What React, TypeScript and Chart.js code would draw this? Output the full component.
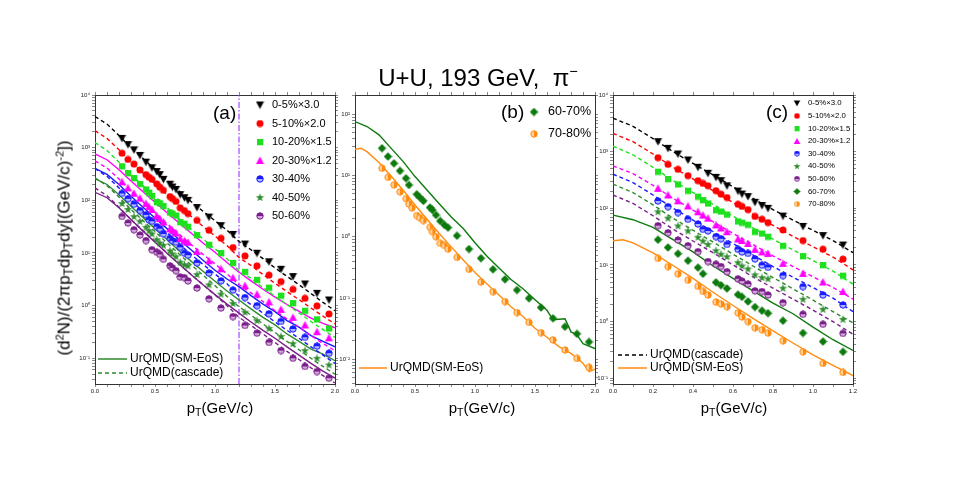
import { useEffect, useRef } from 'react';
import { Chart, registerables } from 'chart.js';
Chart.register(...registerables);

// ---------------- data ----------------
const DATA_PT = [0.225, 0.275, 0.325, 0.375, 0.425, 0.45, 0.475, 0.515, 0.54, 0.57, 0.625, 0.645, 0.675, 0.71, 0.745, 0.775, 0.85, 0.95, 1.05, 1.15, 1.25, 1.35, 1.45, 1.55, 1.65, 1.75, 1.85, 1.95];
const C0_5 = [1500, 1145, 910, 713, 530, null, 415, 352, 308, 250, 202, 179, 161, 128, 112, 100, 73, 48, 33, 22.5, 14.8, 9.9, 6.8, 4.9, 3.56, 2.58, 1.71, 1.28];
const C5_10 = [784, 597, 488, 377, 308, 275, 250, 205, 178, 155, 118, 108, 95, 72, 64, 56, 41.5, 27, 19, 12.7, 8.8, 5.7, 3.8, 2.86, 2.04, 1.38, 0.99, 0.695];
const C10_20 = [444, 330, 265, 205, 161, 140, 122, 93, 88, 78, 59, 56, 51.5, 38.7, 36, 31.6, 21.9, 14.4, 10, 6.5, 4.4, 3.1, 2.2, 1.55, 1.12, 0.8, 0.55, 0.37];
const C20_30 = [225, 172, 136, 110, 87, 76, 67, 51, 45, 38.7, 28.8, 27, 24, 18.9, 17, 16, 10.7, 7.1, 5.0, 3.4, 2.4, 1.65, 1.18, 0.85, 0.6, 0.43, 0.32, 0.245];
const C30_40 = [135, 107, 84, 64, 53, 42.6, 40, 31.6, 29, 23, 18.9, 17, 16, 12.8, 9.9, 9.1, 6.5, 4.15, 2.95, 1.97, 1.42, 1.0, 0.7, 0.5, 0.36, 0.25, 0.17, 0.125];
const C40_50 = [87, 67, 49, 40, 30.8, 26.5, 23, 17.9, 15.5, 14, 11, 9.6, 8.5, 6.7, 6.0, 5.7, 3.9, 2.48, 1.65, 1.1, 0.75, 0.52, 0.37, 0.26, 0.19, 0.14, 0.1, 0.075];
const C50_60 = [49.4, 37, 27.6, 21.9, 17.2, null, 11.5, 10.3, 9.4, 7.6, 5.7, 5.2, 4.6, 3.5, 3.4, 2.95, 2.16, 1.35, 0.9, 0.62, 0.42, 0.3, 0.2, 0.14, 0.1, 0.07, 0.056, 0.042];
const C60_70 = [27.9, 20.4, 15.8, 11.9, 9.0, 7.0, null, 4.94, 4.4, 3.85, 3.0, 2.74, 2.27, 1.81, 1.56, 1.41, 1.04, 0.63, 0.446, 0.294, 0.202, 0.135, 0.099, 0.070, 0.0467, 0.034, 0.026, 0.0192];
const C70_80 = [13.1, 9.36, 7.0, 5.4, 4.2, 3.43, 2.96, 2.22, 2.05, 1.84, 1.43, 1.21, 1.0, 0.78, 0.72, 0.63, 0.46, 0.294, 0.183, 0.127, 0.0874, 0.058, 0.040, 0.0272, 0.0207, 0.0142, 0.0103, 0.0074];

const MODEL_PT = [0, 0.1, 0.2, 0.3, 0.4, 0.5, 0.6, 0.7, 0.8, 0.9, 1.0, 1.1, 1.2, 1.3, 1.4, 1.5, 1.6, 1.7, 1.8, 1.9, 2.0];
const CASC0_5 = [3900, 2800, 1700, 1000, 620, 390, 240, 150, 95, 62, 41, 27, 16.5, 11.5, 7.8, 5.2, 3.6, 2.5, 1.7, 1.15, 0.8];
const CASC5_10 = [2100, 1500, 910, 530, 330, 205, 126, 79, 50, 32, 21, 13.8, 8.2, 5.8, 3.9, 2.65, 1.85, 1.3, 0.9, 0.63, 0.45];
const CASC10_20 = [1250, 880, 530, 310, 190, 118, 73, 45, 28.5, 18.5, 12, 7.8, 4.6, 3.3, 2.2, 1.5, 1.05, 0.73, 0.5, 0.35, 0.25];
const CASC20_30 = [560, 410, 255, 150, 93, 58, 36, 23, 14.5, 9.4, 6.2, 4.0, 2.5, 1.75, 1.2, 0.8, 0.56, 0.39, 0.27, 0.19, 0.14];
const CASC30_40 = [400, 285, 172, 101, 62, 39, 24, 15, 9.4, 6.1, 4.0, 2.6, 1.5, 1.05, 0.72, 0.49, 0.34, 0.24, 0.165, 0.115, 0.08];
const CASC40_50 = [268, 190, 115, 67, 41, 25.5, 15.5, 9.6, 6.0, 3.8, 2.4, 1.5, 0.95, 0.66, 0.45, 0.31, 0.21, 0.145, 0.1, 0.07, 0.05];
const CASC50_60 = [172, 122, 74, 43, 26.5, 16.5, 10, 6.2, 3.9, 2.5, 1.6, 1.0, 0.6, 0.42, 0.29, 0.2, 0.135, 0.095, 0.066, 0.047, 0.034];
const SM20_30 = [760, 590, 380, 232, 145, 92, 58, 37, 24, 15.5, 10.3, 6.6, 4.3, 2.95, 2.05, 1.45, 1.05, 0.78, 0.58, 0.46, 0.38];
const SM30_40 = [405, 310, 200, 120, 74, 46, 29, 18, 11.5, 7.3, 4.7, 3.2, 2.3, 1.55, 1.07, 0.77, 0.52, 0.39, 0.27, 0.21, 0.165];
const SM40_50 = [258, 200, 128, 77, 47, 29, 18, 11, 7.0, 4.5, 2.9, 1.9, 1.28, 0.87, 0.6, 0.43, 0.29, 0.21, 0.15, 0.12, 0.09];
const SM50_60 = [142, 112, 72, 43, 26, 16, 9.9, 6.2, 3.9, 2.5, 1.62, 1.07, 0.72, 0.49, 0.34, 0.24, 0.165, 0.115, 0.08, 0.057, 0.042];
const SM60_70_PT = [0, 0.1, 0.2, 0.3, 0.4, 0.5, 0.6, 0.7, 0.8, 0.9, 1.0, 1.1, 1.2, 1.3, 1.4, 1.5, 1.6, 1.65, 1.7, 1.75, 1.8, 1.85, 1.9, 2.0];
const SM60_70 = [76, 63, 46, 28, 17, 9.6, 5.8, 3.5, 2.13, 1.38, 0.8, 0.48, 0.31, 0.2, 0.142, 0.094, 0.063, 0.044, 0.045, 0.046, 0.028, 0.025, 0.018, 0.015];
const SM70_80_PT = [0, 0.05, 0.1, 0.2, 0.3, 0.4, 0.5, 0.6, 0.7, 0.8, 0.9, 1.0, 1.1, 1.2, 1.3, 1.4, 1.5, 1.6, 1.7, 1.8, 1.9, 1.95, 2.0];
const SM70_80 = [26.8, 27.9, 24.5, 16.3, 9.8, 5.8, 3.3, 1.93, 1.14, 0.69, 0.42, 0.26, 0.17, 0.112, 0.072, 0.05, 0.032, 0.0229, 0.0161, 0.0125, 0.0086, 0.0063, 0.0069];
const CUT_PT = 1.2;

const CENT_LABELS = ['0-5%×3.0', '5-10%×2.0', '10-20%×1.5', '20-30%×1.2', '30-40%', '40-50%', '50-60%', '60-70%', '70-80%'];
const X_MAJOR_AB = [0, 0.5, 1.0, 1.5, 2.0];
const X_MAJOR_C = [0, 0.2, 0.4, 0.6, 0.8, 1.0, 1.2];
const Y_RANGE_A = [0.0325, 10000];
const Y_RANGE_B = [0.00395, 206];
const Y_RANGE_C = [0.0794, 10000];

// ---------------- styling / layout ----------------
const COL = {
  black: '#000000', red: '#ff0000', lime: '#1fe01f', magenta: '#ff00ff', blue: '#1a1aff',
  green: '#2e8b2e', purple: '#7a1f8a', dkgreen: '#0d7a0d', orange: '#ff8c10', cut: '#9933ff',
};
const GEOM = {
  a: { l: 95, r: 335, t: 95, b: 384 },
  b: { l: 355, r: 595, t: 95, b: 384 },
  c: { l: 613, r: 853, t: 95, b: 384 },
};
const FONT = '"Liberation Sans", Arial, Helvetica, sans-serif';

function box(g) {
  return { left: g.l - 40, top: g.t - 10, width: g.r - g.l + 55, height: g.b - g.t + 30 };
}

function mk(s, draw) {
  const cv = document.createElement('canvas');
  cv.width = s; cv.height = s;
  const c = cv.getContext('2d');
  draw(c, s);
  return cv;
}
function triDown(col) {
  return mk(9, (c) => { c.fillStyle = col; c.beginPath(); c.moveTo(0.5, 1); c.lineTo(8.5, 1); c.lineTo(4.5, 8.5); c.closePath(); c.fill(); });
}
function triUp(col) {
  return mk(9, (c) => { c.fillStyle = col; c.beginPath(); c.moveTo(4.5, 0.5); c.lineTo(8.5, 8); c.lineTo(0.5, 8); c.closePath(); c.fill(); });
}
function dot(col) {
  return mk(8, (c) => { c.fillStyle = col; c.beginPath(); c.arc(4, 4, 3.5, 0, Math.PI * 2); c.fill(); });
}
function square(col) {
  return mk(8, (c) => { c.fillStyle = col; c.fillRect(1, 1, 6.3, 6.3); });
}
function halfDot(col, light, vertical) {
  return mk(8, (c) => {
    c.fillStyle = light; c.beginPath(); c.arc(4, 4, 3.2, 0, Math.PI * 2); c.fill();
    c.fillStyle = col; c.beginPath();
    if (vertical) c.arc(4, 4, 3.2, Math.PI, Math.PI * 2); else c.arc(4, 4, 3.2, -Math.PI / 2, Math.PI / 2);
    c.closePath(); c.fill();
    c.strokeStyle = col; c.lineWidth = 1; c.beginPath(); c.arc(4, 4, 3.2, 0, Math.PI * 2); c.stroke();
  });
}
function star(col) {
  return mk(9, (c) => {
    c.fillStyle = col; c.beginPath();
    for (let i = 0; i < 10; i++) {
      const r = i % 2 === 0 ? 4.4 : 1.8;
      const a = -Math.PI / 2 + (i * Math.PI) / 5;
      const x = 4.5 + r * Math.cos(a), y = 4.7 + r * Math.sin(a);
      if (i === 0) c.moveTo(x, y); else c.lineTo(x, y);
    }
    c.closePath(); c.fill();
  });
}
function diamond(col) {
  return mk(9, (c) => { c.fillStyle = col; c.beginPath(); c.moveTo(4.5, 0.3); c.lineTo(8.7, 4.5); c.lineTo(4.5, 8.7); c.lineTo(0.3, 4.5); c.closePath(); c.fill(); });
}

const pts = (xs, ys) => xs.map((x, i) => ({ x, y: ys[i] })).filter((p) => p.y !== null && p.y !== undefined);
const markDs = (ys, img) => ({ data: pts(DATA_PT, ys), pointStyle: img, pointRadius: 4, showLine: false, order: 0 });
const lineDs = (xs, ys, color, dashed) => ({
  data: pts(xs, ys), showLine: true, pointRadius: 0, borderColor: color, backgroundColor: color,
  borderWidth: 1.4, borderDash: dashed ? [4, 3] : [], fill: false, tension: 0, order: 1,
});

const SUP = { '-': '⁻', '0': '⁰', '1': '¹', '2': '²', '3': '³', '4': '⁴', '5': '⁵' };
const isDec = (v) => { const e = Math.log10(v); return Math.abs(e - Math.round(e)) < 1e-7; };
function logVals(min, max) {
  const out = [];
  for (let e = Math.floor(Math.log10(min)); e <= Math.ceil(Math.log10(max)); e++) {
    for (let k = 1; k <= 9; k++) {
      const v = k * Math.pow(10, e);
      if (v >= min * 0.9999 && v <= max * 1.0001) out.push(v);
    }
  }
  return out;
}

function scales(xMax, xMajor, yRange) {
  const xv = [];
  for (let i = 0; i <= Math.round(xMax * 10); i++) xv.push(i / 10);
  const yv = logVals(yRange[0], yRange[1]);
  const font = { size: 6, family: FONT };
  const grid = { drawOnChartArea: false, drawTicks: true, tickLength: 3, color: '#555', lineWidth: 0.7 };
  const border = { display: true, color: '#333', width: 1 };
  const xCb = (v) => (xMajor.some((m) => Math.abs(m - v) < 1e-6) ? Number(v).toFixed(1) : '');
  const yCb = (v) => {
    if (!isDec(v)) return '';
    const e = String(Math.round(Math.log10(v)));
    return '10' + e.split('').map((ch) => SUP[ch]).join('');
  };
  const xBase = (pos, h, show) => ({
    type: 'linear', position: pos, min: 0, max: xMax,
    afterBuildTicks: (s) => { s.ticks = xv.map((v) => ({ value: v })); },
    ticks: { display: show, autoSkip: false, maxRotation: 0, minRotation: 0, padding: 1, font, color: '#222', callback: xCb },
    grid, border,
    afterFit: (s) => { s.height = h; },
  });
  const yBase = (pos, w, show) => ({
    type: 'logarithmic', position: pos, min: yRange[0], max: yRange[1],
    afterBuildTicks: (s) => { s.ticks = yv.map((v) => ({ value: v })); },
    ticks: { display: show, autoSkip: false, padding: 2, font, color: '#222', callback: yCb },
    grid, border,
    afterFit: (s) => { s.width = w; },
  });
  return { x: xBase('bottom', 20, true), x2: xBase('top', 10, false), y: yBase('left', 40, true), y2: yBase('right', 15, false) };
}

function overlay(id, bx, items) {
  return {
    id,
    afterDraw(chart) {
      const ctx = chart.ctx;
      ctx.save();
      for (const it of items) {
        const x = it.x - bx.left, y = it.y - bx.top;
        if (it.img) {
          const s = it.s || 1;
          const w = it.img.width * s, h = it.img.height * s;
          ctx.drawImage(it.img, x - w / 2, y - h / 2, w, h);
        }
        if (it.line) {
          ctx.beginPath(); ctx.setLineDash(it.dash || []); ctx.strokeStyle = it.line; ctx.lineWidth = 1.5;
          ctx.moveTo(x, y); ctx.lineTo(it.x2 - bx.left, y); ctx.stroke(); ctx.setLineDash([]);
        }
        if (it.text) {
          ctx.font = it.font; ctx.fillStyle = '#000'; ctx.textBaseline = 'middle'; ctx.textAlign = 'left';
          ctx.fillText(it.text, (it.tx !== undefined ? it.tx : it.x) - bx.left, y);
        }
      }
      ctx.restore();
    },
  };
}

function baseOptions(sc) {
  return {
    animation: false, responsive: false, maintainAspectRatio: false,
    layout: { padding: 0 },
    plugins: { legend: { display: false }, tooltip: { enabled: false }, title: { display: false } },
    scales: sc,
  };
}

export default function App() {
  const ra = useRef(null);
  const rb = useRef(null);
  const rc = useRef(null);
  const ba = box(GEOM.a), bb = box(GEOM.b), bc = box(GEOM.c);

  useEffect(() => {
    const M = [
      triDown(COL.black), dot(COL.red), square(COL.lime), triUp(COL.magenta),
      halfDot(COL.blue, '#aab4ff', true), star(COL.green), halfDot(COL.purple, '#d2a8da', true),
      diamond(COL.dkgreen), halfDot(COL.orange, '#ffd09a', false),
    ];
    const SER = [C0_5, C5_10, C10_20, C20_30, C30_40, C40_50, C50_60, C60_70, C70_80];
    const CASC = [CASC0_5, CASC5_10, CASC10_20, CASC20_30, CASC30_40, CASC40_50, CASC50_60];
    const CCOL = [COL.black, COL.red, COL.lime, COL.magenta, COL.blue, COL.green, COL.purple];

    // panel (a)
    const dsA = [];
    for (let i = 0; i < 7; i++) dsA.push(markDs(SER[i], M[i]));
    for (let i = 0; i < 7; i++) dsA.push(lineDs(MODEL_PT, CASC[i], CCOL[i], true));
    dsA.push(lineDs(MODEL_PT, SM20_30, COL.magenta, false));
    dsA.push(lineDs(MODEL_PT, SM30_40, COL.blue, false));
    dsA.push(lineDs(MODEL_PT, SM40_50, COL.green, false));
    dsA.push(lineDs(MODEL_PT, SM50_60, COL.purple, false));
    dsA.push({
      data: [{ x: CUT_PT, y: Y_RANGE_A[0] }, { x: CUT_PT, y: Y_RANGE_A[1] }], showLine: true, pointRadius: 0,
      borderColor: COL.cut, borderWidth: 1.1, borderDash: [6, 2, 1.5, 2], order: 2,
    });
    const itemsA = [{ text: '(a)', x: 213, y: 114, font: `19px ${FONT}` }];
    for (let i = 0; i < 7; i++) itemsA.push({ img: M[i], x: 260, y: 105 + i * 18.5, text: CENT_LABELS[i], tx: 272, font: `11px ${FONT}` });
    itemsA.push({ line: COL.green, x: 98, x2: 127, y: 359, text: 'UrQMD(SM-EoS)', tx: 130, font: `12px ${FONT}` });
    itemsA.push({ line: COL.green, dash: [4, 3], x: 98, x2: 127, y: 373, text: 'UrQMD(cascade)', tx: 130, font: `12px ${FONT}` });

    // panel (b)
    const dsB = [
      markDs(C60_70, M[7]), markDs(C70_80, M[8]),
      lineDs(SM60_70_PT, SM60_70, COL.dkgreen, false), lineDs(SM70_80_PT, SM70_80, COL.orange, false),
    ];
    const itemsB = [
      { text: '(b)', x: 501, y: 113, font: `19px ${FONT}` },
      { img: M[7], x: 534, y: 112, text: CENT_LABELS[7], tx: 548, font: `12.5px ${FONT}` },
      { img: M[8], x: 534, y: 134, text: CENT_LABELS[8], tx: 548, font: `12.5px ${FONT}` },
      { line: COL.orange, x: 359, x2: 387, y: 368, text: 'UrQMD(SM-EoS)', tx: 390, font: `12px ${FONT}` },
    ];

    // panel (c)
    const dsC = [];
    for (let i = 0; i < 9; i++) dsC.push(markDs(SER[i], M[i]));
    for (let i = 0; i < 7; i++) dsC.push(lineDs(MODEL_PT, CASC[i], CCOL[i], true));
    dsC.push(lineDs(SM60_70_PT, SM60_70, COL.dkgreen, false));
    dsC.push(lineDs(SM70_80_PT, SM70_80, COL.orange, false));
    const itemsC = [{ text: '(c)', x: 766, y: 113, font: `19px ${FONT}` }];
    for (let i = 0; i < 9; i++) itemsC.push({ img: M[i], s: 0.8, x: 797, y: 103.3 + i * 12.6, text: CENT_LABELS[i], tx: 808, font: `7.8px ${FONT}` });
    itemsC.push({ line: COL.black, dash: [4, 3], x: 618, x2: 647, y: 355, text: 'UrQMD(cascade)', tx: 650, font: `12px ${FONT}` });
    itemsC.push({ line: COL.orange, x: 618, x2: 647, y: 368, text: 'UrQMD(SM-EoS)', tx: 650, font: `12px ${FONT}` });

    const charts = [
      new Chart(ra.current, { type: 'scatter', data: { datasets: dsA }, options: baseOptions(scales(2.0, X_MAJOR_AB, Y_RANGE_A)), plugins: [overlay('ovA', ba, itemsA)] }),
      new Chart(rb.current, { type: 'scatter', data: { datasets: dsB }, options: baseOptions(scales(2.0, X_MAJOR_AB, Y_RANGE_B)), plugins: [overlay('ovB', bb, itemsB)] }),
      new Chart(rc.current, { type: 'scatter', data: { datasets: dsC }, options: baseOptions(scales(1.2, X_MAJOR_C, Y_RANGE_C)), plugins: [overlay('ovC', bc, itemsC)] }),
    ];
    return () => charts.forEach((c) => c.destroy());
  }, []);

  const cs = (b) => ({ position: 'absolute', left: b.left, top: b.top, width: b.width, height: b.height });
  const sub = { fontSize: '70%', verticalAlign: '-0.25em' };
  const sup = { fontSize: '65%', verticalAlign: '0.55em' };
  const xTitle = (cx) => (
    <div style={{ position: 'absolute', left: cx, top: 409, transform: 'translate(-50%,-50%)', fontSize: 15, whiteSpace: 'nowrap', lineHeight: 1 }}>
      p<span style={sub}>T</span>(GeV/c)
    </div>
  );
  return (
    <div style={{ position: 'absolute', left: 0, top: 0, width: 959, height: 480, background: '#fff', fontFamily: FONT, color: '#000', overflow: 'hidden' }}>
      <canvas ref={ra} width={ba.width} height={ba.height} style={cs(ba)} />
      <canvas ref={rb} width={bb.width} height={bb.height} style={cs(bb)} />
      <canvas ref={rc} width={bc.width} height={bc.height} style={cs(bc)} />
      <div style={{ position: 'absolute', left: 478, top: 77, transform: 'translate(-50%,-50%)', fontSize: 24, whiteSpace: 'pre', lineHeight: 1 }}>
        U+U, 193 GeV,  π<span style={{ fontSize: '60%', verticalAlign: '0.7em' }}>−</span>
      </div>
      <div style={{ position: 'absolute', left: 65, top: 248, transform: 'translate(-50%,-50%) rotate(-90deg)', fontSize: 17, whiteSpace: 'nowrap', lineHeight: 1 }}>
        (d<span style={sup}>2</span>N)/(2πp<span style={sub}>T</span>dp<span style={sub}>T</span>dy[(GeV/c)<span style={sup}>-2</span>])
      </div>
      {xTitle(220)}
      {xTitle(482)}
      {xTitle(734)}
    </div>
  );
}
